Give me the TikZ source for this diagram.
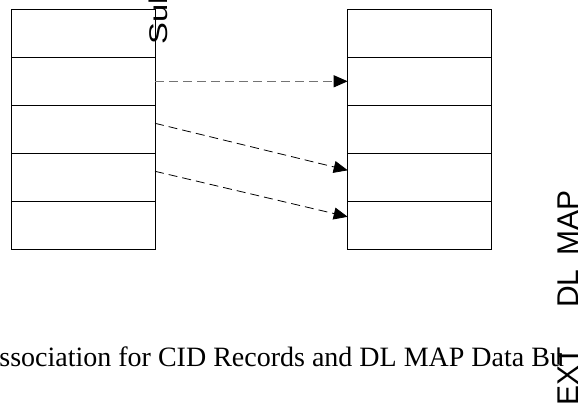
\documentclass[tikz,border=0pt]{standalone}
\usepackage{fontspec}
\setmainfont{Liberation Serif}
\newfontfamily\labelsans{Liberation Sans}
\usetikzlibrary{arrows.meta}
\begin{document}
\begin{tikzpicture}[x=1pt,y=-1pt,
  cell/.style={draw=black,line width=1pt,minimum width=143.5pt,minimum height=48pt,inner sep=0pt,outer sep=0pt,anchor=north west},
  maplink/.style={dashed,dash pattern=on 9pt off 5pt,-{Triangle[length=14pt,width=12pt,black]}},
  caption/.style={inner sep=0pt,font=\fontsize{28}{32}\selectfont},
  sidelabel/.style={inner sep=0pt,rotate=90}]
\useasboundingbox (0,0) rectangle (584,406);
\clip (0,0) rectangle (584,406);
\fill[white] (0,0) rectangle (584,406);
% left column
\node[cell] (L1) at (11.5,9.3) {};
\node[cell] (L2) at (11.5,57.3) {};
\node[cell] (L3) at (11.5,105.3) {};
\node[cell] (L4) at (11.5,153.3) {};
\node[cell] (L5) at (11.5,201.3) {};
% right column
\node[cell] (R1) at (347.7,9.3) {};
\node[cell] (R2) at (347.7,57.3) {};
\node[cell] (R3) at (347.7,105.3) {};
\node[cell] (R4) at (347.7,153.3) {};
\node[cell] (R5) at (347.7,201.3) {};
% connectors
\draw[maplink,draw=black!55,line width=1.2pt] (L2.east) -- (R2.west);
\draw[maplink,line width=0.8pt] ([yshift=6pt]L3.east) -- ([yshift=7pt]R4.west);
\draw[maplink,line width=0.8pt] ([yshift=6pt]L4.east) -- ([yshift=8.5pt]R5.west);
% labels
\node[sidelabel,anchor=base west] (sub) at (167,44.6) {\scalebox{1.28}[1]{\labelsans\fontsize{25.6}{30}\selectfont Sub}};
\node[sidelabel,anchor=base east] (ext) at (578,190.5) {\labelsans\fontsize{30}{34}\selectfont EXT\hspace{39.5pt}DL\hspace{13.7pt}MAP};
\node[caption,anchor=base west] (cap) at (-21,366) {Association for CID Records and DL MAP Data Bu};
\end{tikzpicture}
\end{document}
